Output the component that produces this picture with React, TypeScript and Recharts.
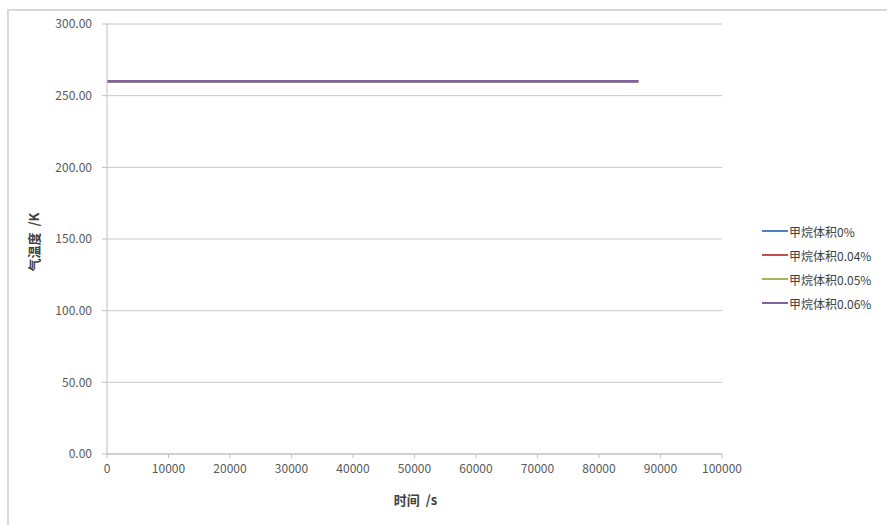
import React from "react";
import { LineChart, Line, XAxis, YAxis, CartesianGrid } from "recharts";

const times = [0, 21600, 43200, 64800, 86400];
const s0 = [260, 260, 260, 260, 260];
const s004 = [260, 260, 260, 260, 260];
const s005 = [260, 260, 260, 260, 260];
const s006 = [260, 260, 260, 260, 260];
const seriesNames = ["甲烷体积0%", "甲烷体积0.04%", "甲烷体积0.05%", "甲烷体积0.06%"];
const seriesColors = ["#4F81BD", "#C0504D", "#9BBB59", "#8064A2"];
const xTicks = [0, 10000, 20000, 30000, 40000, 50000, 60000, 70000, 80000, 90000, 100000];
const yTicks = [0, 50, 100, 150, 200, 250, 300];

const keys = ["a", "b", "c", "d"];
const seriesValues = [s0, s004, s005, s006];
const data = times.map((t, i) => {
  const row: any = { t };
  keys.forEach((k, j) => (row[k] = seriesValues[j][i]));
  return row;
});

const FONT = "'Noto Sans CJK SC', 'Open Sans', sans-serif";

export default function App() {
  return (
    <div style={{ position: "absolute", left: 0, top: 0, width: 887, height: 525, background: "#fff" }}>
      <div
        style={{
          position: "absolute",
          left: 7,
          top: 9,
          width: 880,
          height: 516,
          borderTop: "2px solid #d9d9d9",
          borderLeft: "2px solid #d9d9d9",
          boxSizing: "border-box",
        }}
      />
      <div style={{ position: "absolute", left: 0, top: 0 }}>
        <LineChart width={887} height={525} data={data} margin={{ top: 24, right: 165, bottom: 41, left: 47 }}>
          <CartesianGrid vertical={false} stroke="#c8c8c8" strokeWidth={1} />
          <XAxis
            dataKey="t"
            type="number"
            domain={[0, 100000]}
            ticks={xTicks}
            interval={0}
            height={30}
            tickSize={4}
            tickMargin={6}
            stroke="#bfbfbf"
            tick={{ fill: "#595959", fontSize: 12, fontFamily: FONT }}
            label={(props: any) => {
              const vb = props.viewBox;
              return (
                <text
                  x={vb.x + vb.width / 2 + 1}
                  y={vb.y + 51}
                  textAnchor="middle"
                  fontFamily={FONT}
                  fontSize={13}
                  fontWeight="bold"
                  fill="#404040"
                  style={{ whiteSpace: "pre" }}
                >
                  {"时间  /s"}
                </text>
              );
            }}
          />
          <YAxis
            type="number"
            domain={[0, 300]}
            ticks={yTicks}
            interval={0}
            width={60}
            tickSize={5}
            tickMargin={10}
            stroke="#bfbfbf"
            tickFormatter={(v: number) => v.toFixed(2)}
            tick={{ fill: "#595959", fontSize: 12, fontFamily: FONT }}
            label={(props: any) => {
              const vb = props.viewBox;
              const cx = 33;
              const cy = vb.y + vb.height / 2 + 3;
              return (
                <text
                  x={cx}
                  y={cy}
                  transform={`rotate(-90 ${cx} ${cy})`}
                  textAnchor="middle"
                  dominantBaseline="central"
                  fontFamily={FONT}
                  fontSize={13}
                  fontWeight="bold"
                  fill="#404040"
                  style={{ whiteSpace: "pre" }}
                >
                  {"气温度  /K"}
                </text>
              );
            }}
          />
          {keys.map((k, i) => (
            <Line
              key={k}
              dataKey={k}
              name={seriesNames[i]}
              stroke={seriesColors[i]}
              strokeWidth={2.5}
              dot={false}
              isAnimationActive={false}
            />
          ))}
        </LineChart>
      </div>
      <div
        style={{
          position: "absolute",
          left: 762,
          top: 219,
          fontFamily: FONT,
          fontSize: 12,
          color: "#404040",
        }}
      >
        {seriesNames.map((n, i) => (
          <div key={n} style={{ display: "flex", alignItems: "center", height: 24 }}>
            <div style={{ width: 26, height: 2, background: seriesColors[i], marginRight: 1 }} />
            <span>{n}</span>
          </div>
        ))}
      </div>
    </div>
  );
}
